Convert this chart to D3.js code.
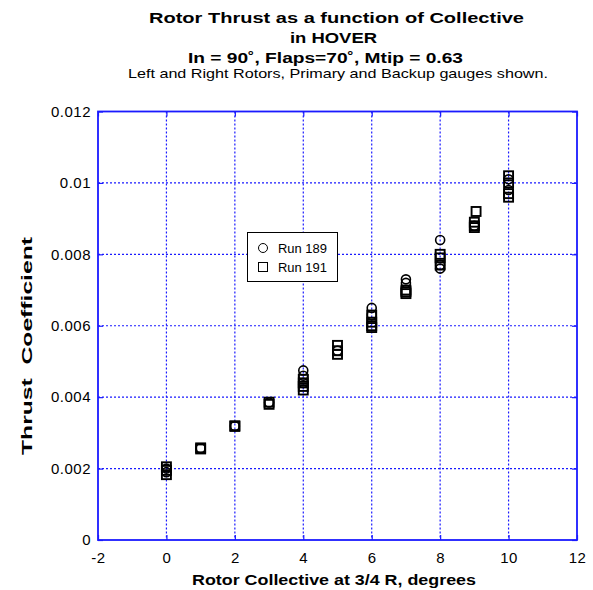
<!DOCTYPE html>
<html>
<head>
<meta charset="utf-8">
<script src="https://cdn.jsdelivr.net/npm/d3@7"></script>
<style>
  html, body { margin: 0; padding: 0; background: #fff; }
  svg text { font-family: "Liberation Sans", Arial, sans-serif; fill: #000; }
</style>
</head>
<body>
<svg id="chart" width="593" height="590"></svg>
<script>
// Collective (deg) and thrust coefficient readings, per run
const run189X = [0, 0, 1, 2, 3, 4, 4, 4, 5, 6, 6, 7, 7, 8, 8, 8, 9, 10, 10];
const run189Y = [0.0020, 0.0019, 0.00257, 0.00319, 0.00385, 0.00475, 0.0046, 0.0044, 0.0053, 0.0065, 0.0063, 0.0073, 0.0072, 0.0084, 0.0077, 0.0076, 0.0088, 0.0101, 0.0098];

const run191X = [0, 0, 0, 1, 1, 2, 2, 3, 3, 4, 4, 4, 4, 5, 5, 5, 6, 6, 6, 6, 7, 7, 7, 8, 8, 8, 9.05, 9, 9, 9, 10, 10, 10, 10];
const run191Y = [0.00205, 0.00195, 0.00183, 0.00258, 0.00255, 0.0032, 0.00318, 0.00386, 0.0038, 0.0045, 0.0044, 0.0043, 0.0042, 0.00545, 0.0053, 0.0052, 0.0063, 0.0061, 0.0060, 0.00595, 0.0070, 0.00695, 0.0069, 0.0080, 0.0079, 0.0077, 0.0092, 0.0089, 0.0088, 0.00875, 0.0102, 0.0100, 0.0097, 0.0096];

const xTicks = [-2, 0, 2, 4, 6, 8, 10, 12];
const yTicks = [0, 0.002, 0.004, 0.006, 0.008, 0.01, 0.012];

const titleLines = [
  "Rotor Thrust as a function of Collective",
  "in HOVER",
  "In = 90˚, Flaps=70˚, Mtip = 0.63"
];
const subtitle = "Left and Right Rotors, Primary and Backup gauges shown.";
const legendLabels = ["Run 189", "Run 191"];
const xTitle = "Rotor Collective at 3/4 R, degrees";
const yTitle = "Thrust  Coefficient";

const svg = d3.select("#chart");
const plotL = 98, plotR = 577, plotT = 111.5, plotB = 540;
const blue = "#1a1aff";

const x = d3.scaleLinear().domain([-2, 12]).range([plotL, plotR]);
const y = d3.scaleLinear().domain([0, 0.012]).range([plotB, plotT]);

// dotted grid
const grid = svg.append("g");
grid.selectAll("line.v").data(xTicks.slice(1, -1)).enter().append("line")
  .attr("x1", d => x(d)).attr("x2", d => x(d))
  .attr("y1", plotT).attr("y2", plotB)
  .attr("stroke", blue).attr("stroke-width", 1.2).attr("stroke-dasharray", "2,2");
grid.selectAll("line.h").data(yTicks.slice(1, -1)).enter().append("line")
  .attr("x1", plotL).attr("x2", plotR)
  .attr("y1", d => y(d)).attr("y2", d => y(d))
  .attr("stroke", blue).attr("stroke-width", 1.2).attr("stroke-dasharray", "2,2");

// axes with inward ticks
function styleAxis(g) {
  g.select(".domain").remove();
  g.selectAll(".tick line").attr("stroke", blue).attr("stroke-width", 1.2);
  g.selectAll(".tick text")
    .style("font-size", "15px")
    .style("letter-spacing", "0.5px")
    .style("font-family", "Liberation Sans, Arial, sans-serif");
}
const fmtX = d => String(d);
const fmtY = d => d === 0 ? "0" : String(+d.toFixed(3));
svg.append("g").attr("transform", `translate(0,${plotB})`)
  .call(d3.axisBottom(x).tickValues(xTicks).tickSizeInner(-5).tickSizeOuter(0).tickPadding(12).tickFormat(fmtX))
  .call(styleAxis);
svg.append("g").attr("transform", `translate(0,${plotT})`)
  .call(d3.axisTop(x).tickValues(xTicks).tickSizeInner(-5).tickSizeOuter(0).tickFormat(""))
  .call(styleAxis);
svg.append("g").attr("transform", `translate(${plotL},0)`)
  .call(d3.axisLeft(y).tickValues(yTicks).tickSizeInner(-5).tickSizeOuter(0).tickPadding(7).tickFormat(fmtY))
  .call(styleAxis);
svg.append("g").attr("transform", `translate(${plotR},0)`)
  .call(d3.axisRight(y).tickValues(yTicks).tickSizeInner(-5).tickSizeOuter(0).tickFormat(""))
  .call(styleAxis);

svg.append("rect").attr("x", plotL).attr("y", plotT)
  .attr("width", plotR - plotL).attr("height", plotB - plotT)
  .attr("fill", "none").attr("stroke", blue).attr("stroke-width", 1.8);

// markers
const r189 = run189X.map((v, i) => ({ x: v, y: run189Y[i] }));
const r191 = run191X.map((v, i) => ({ x: v, y: run191Y[i] }));
const msz = 9;
svg.append("g").selectAll("circle").data(r189).enter().append("circle")
  .attr("cx", d => x(d.x)).attr("cy", d => y(d.y)).attr("r", 4.5)
  .attr("fill", "none").attr("stroke", "#000").attr("stroke-width", 1.6);
svg.append("g").selectAll("rect").data(r191).enter().append("rect")
  .attr("x", d => x(d.x) - msz / 2).attr("y", d => y(d.y) - msz / 2)
  .attr("width", msz).attr("height", msz)
  .attr("fill", "none").attr("stroke", "#000").attr("stroke-width", 1.9);

// legend
const lg = svg.append("g").attr("transform", "translate(247.5,232.5)");
lg.append("rect").attr("width", 90).attr("height", 49)
  .attr("fill", "#fff").attr("stroke", "#000").attr("stroke-width", 1);
lg.append("circle").attr("cx", 15.5).attr("cy", 15.5).attr("r", 4.5)
  .attr("fill", "none").attr("stroke", "#000").attr("stroke-width", 1);
lg.append("rect").attr("x", 11).attr("y", 30).attr("width", 9).attr("height", 9)
  .attr("fill", "none").attr("stroke", "#000").attr("stroke-width", 1);
lg.selectAll("text").data(legendLabels).enter().append("text")
  .attr("x", 30.5).attr("y", (d, i) => 20 + i * 19)
  .attr("textLength", 49).attr("lengthAdjust", "spacingAndGlyphs")
  .style("font-size", "12.5px").text(d => d);

// titles
const titleSpec = [
  { cx: 336.5, y: 23, w: 375 },
  { cx: 333.5, y: 43, w: 87 },
  { cx: 325.5, y: 63, w: 275 }
];
svg.selectAll("text.title").data(titleLines).enter().append("text")
  .attr("class", "title")
  .attr("x", (d, i) => titleSpec[i].cx).attr("y", (d, i) => titleSpec[i].y)
  .attr("text-anchor", "middle")
  .attr("textLength", (d, i) => titleSpec[i].w).attr("lengthAdjust", "spacingAndGlyphs")
  .style("font-size", "15px").style("font-weight", "bold")
  .text(d => d);
svg.append("text").attr("x", 338).attr("y", 78).attr("text-anchor", "middle")
  .attr("textLength", 420).attr("lengthAdjust", "spacingAndGlyphs")
  .style("font-size", "13.5px").text(subtitle);

// axis titles
svg.append("text").attr("x", 334).attr("y", 585).attr("text-anchor", "middle")
  .attr("textLength", 284).attr("lengthAdjust", "spacingAndGlyphs")
  .style("font-size", "14px").style("font-weight", "bold")
  .text(xTitle);
svg.append("text").attr("transform", "translate(32,346) rotate(-90)")
  .attr("text-anchor", "middle")
  .attr("textLength", 218).attr("lengthAdjust", "spacingAndGlyphs")
  .style("font-size", "14px").style("font-weight", "bold").style("white-space", "pre")
  .text(yTitle);
</script>
</body>
</html>
